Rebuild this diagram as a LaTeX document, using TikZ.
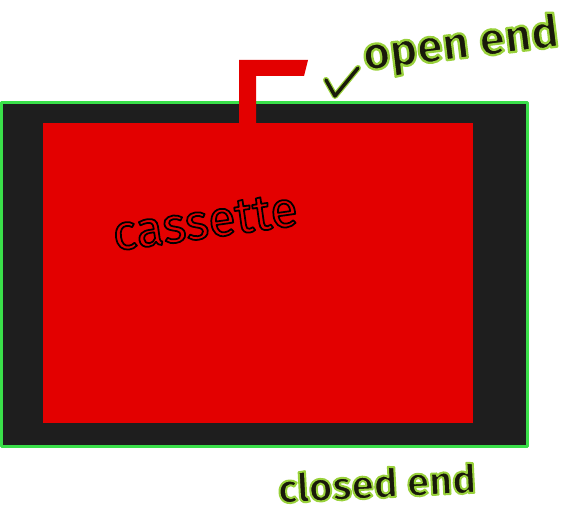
\documentclass[tikz,border=0pt]{standalone}
\usepackage{fontspec}
\setmainfont{Fira Sans}
\definecolor{frame}{HTML}{1E1E1E}
\definecolor{rim}{HTML}{3AE04A}
\definecolor{cassred}{HTML}{E30000}
% fill colour first, stroke colour second
\newcommand{\twotone}[3]{\special{pdf:bcolor [#1] [#2]}#3\special{pdf:ecolor}}
\newcommand{\glowtext}[1]{\twotone{0.1 0.1 0.04}{0.6 0.82 0.23}{#1}}
\font\cassfont="Fira Sans:embolden=3.5" at 50pt
\font\openfont="Fira Sans Bold:embolden=5" at 46pt
\font\closedfont="Fira Sans Bold:embolden=5" at 40pt
\begin{document}
\begin{tikzpicture}[x=1pt, y=-1pt, line join=round, line cap=round,
	label/.style={inner sep=0pt},
	hand/.style={draw={rgb,255:red,26;green,26;blue,10}, line width=3.5pt}]
	\useasboundingbox (0,0) rectangle (566,511);
	% holder and cassette
	\draw[fill=frame, draw=rim, line width=3pt] (1.5,102.5) rectangle (527.5,446.5);
	\fill[cassred] (43,123) rectangle (473,423);
	\fill[cassred] (239,60)--(308,60)--(304,76)--(256,76)--(256,140)--(239,140)--cycle;
	\node[label, rotate=8] (cass) at (205,222) {\cassfont\twotone{0.89 0 0}{0 0 0}{cassette}};
	% ends
	\node[label, rotate=7] (open) at (461,46) {\openfont\glowtext{open end}};
	\node[label, rotate=3] (closed) at (377,483) {\closedfont\glowtext{closed end}};
	\coordinate (tip) at (335,96);
	\coordinate (barb) at (326,80);
	\coordinate (tail) at (358,68);
	\draw[hand, draw={rgb,255:red,154;green,210;blue,58}, line width=6pt] (barb)--(tip)--(tail);
	\draw[hand] (barb)--(tip)--(tail);
\end{tikzpicture}
\end{document}
